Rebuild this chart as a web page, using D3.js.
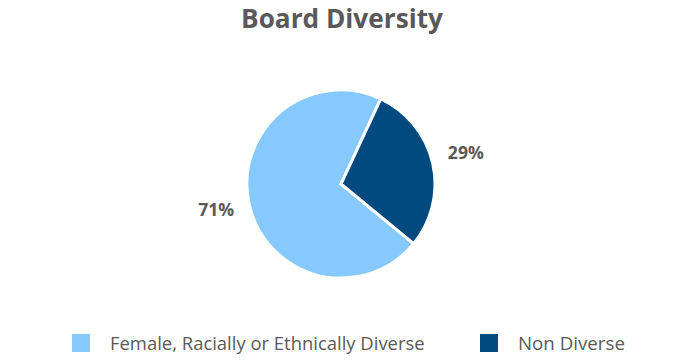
<!DOCTYPE html>
<html><head><meta charset="utf-8">
<script src="https://cdn.jsdelivr.net/npm/d3@7"></script>
<style>body{margin:0;background:#fff;}svg{display:block;}</style>
</head><body>
<svg id="c" width="682" height="360"></svg>
<script>
const categories = ["Female, Racially or Ethnically Diverse", "Non Diverse"];
const values = [71, 29];
const labels = ["71%", "29%"];
const colors = ["#85C9FF", "#004A80"];

const svg = d3.select("#c");
const font = "'Open Sans', 'Liberation Sans', sans-serif";
const cx = 341, cy = 184, r = 94;

function fit(sel, w) {
  const len = sel.node().getComputedTextLength();
  const fs = parseFloat(sel.attr("font-size"));
  sel.attr("font-size", fs * w / len);
}

const title = svg.append("text").attr("x", 342).attr("y", 28).attr("text-anchor", "middle")
  .attr("font-family", font).attr("font-weight", "bold").attr("font-size", 24)
  .attr("fill", "#595959").text("Board Diversity");
fit(title, 202);

const start = 129.4 * Math.PI / 180;
const pie = d3.pie().sort(null).startAngle(start).endAngle(start + 2 * Math.PI);
const arcs = pie(values);
const arc = d3.arc().innerRadius(0).outerRadius(r);
const g = svg.append("g").attr("transform", `translate(${cx},${cy})`);
g.selectAll("path").data(arcs).join("path")
  .attr("d", arc).attr("fill", (d, i) => colors[i])
  .attr("stroke", "#fff").attr("stroke-width", 3).attr("stroke-linejoin", "miter");

const labelArc = d3.arc().innerRadius(r + 34).outerRadius(r + 34);
g.selectAll("text.l").data(arcs).join("text").attr("class", "l")
  .attr("transform", d => { const c = labelArc.centroid(d); return `translate(${c[0]},${c[1]})`; })
  .attr("text-anchor", "middle").attr("dy", "0.2em")
  .attr("font-family", font).attr("font-weight", "bold").attr("font-size", 17)
  .attr("fill", "#595959").text((d, i) => labels[i])
  .each(function () { fit(d3.select(this), 36); });

const legX = [72, 480];
const legW = [315, 107];
const lg = svg.append("g");
categories.forEach((c, i) => {
  lg.append("rect").attr("x", legX[i]).attr("y", 334).attr("width", 18).attr("height", 18).attr("fill", colors[i]);
  const t = lg.append("text").attr("x", legX[i] + 38).attr("y", 350)
    .attr("font-family", font).attr("font-size", 17).attr("fill", "#595959").text(c);
  fit(t, legW[i]);
});
</script>
</body></html>
